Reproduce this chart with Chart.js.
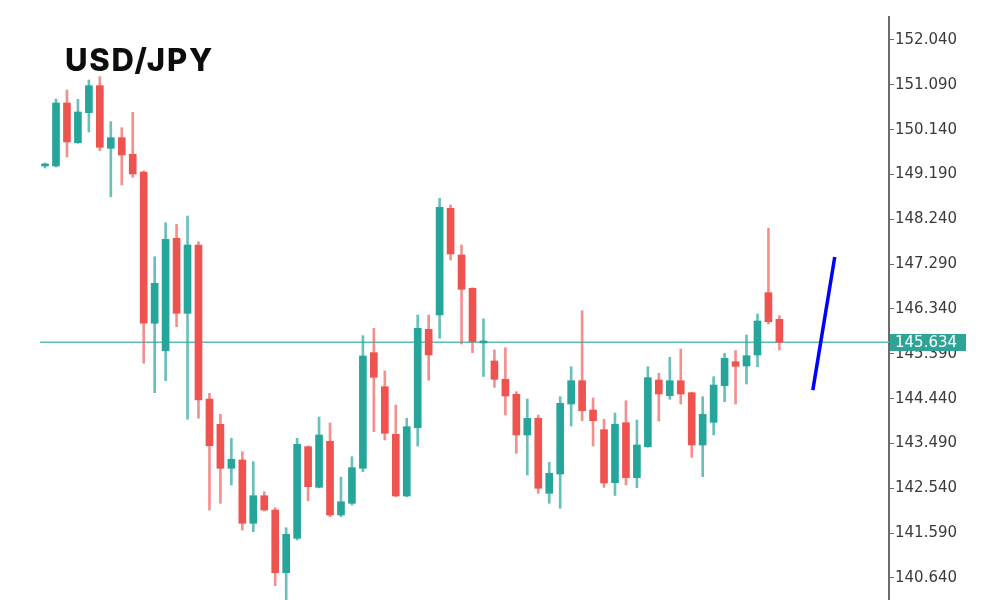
<!DOCTYPE html>
<html>
<head>
<meta charset="utf-8">
<script src="https://cdn.jsdelivr.net/npm/chart.js@4.4.0/dist/chart.umd.min.js"></script>
<style>
  body { margin: 0; background: #fff; }
  #wrap { position: relative; width: 1000px; height: 600px; }
  #pair { position: absolute; left: 65px; top: 41px; font: 800 31px Inter, "Open Sans", sans-serif; color: #0d0d0d; letter-spacing: 1.8px; }
</style>
</head>
<body>
<div id="wrap">
  <canvas id="fx"></canvas>
  <div id="pair">USD/JPY</div>
</div>
<script>

//candles, oldest first
var opens = [149.370, 149.370, 150.705, 149.864, 150.499, 151.072, 149.745, 149.970, 149.618, 149.243,
  146.037, 145.456, 147.838, 146.248, 147.696, 144.432, 143.896, 142.964, 143.140, 141.798,
  142.383, 142.080, 140.751, 141.481, 143.422, 142.561, 143.536, 141.974, 142.222, 142.964,
  145.414, 144.693, 143.684, 142.377, 143.824, 145.909, 146.212, 148.474, 147.484, 146.778,
  145.620, 145.238, 144.850, 144.532, 143.670, 144.023, 142.434, 142.843, 144.326, 144.820,
  144.199, 143.782, 142.659, 143.930, 142.765, 143.422, 144.835, 144.502, 144.820, 144.566,
  143.458, 143.939, 144.714, 145.223, 145.132, 145.365, 146.685, 146.121];
var highs = [149.434, 150.790, 150.980, 150.783, 151.192, 151.262, 150.309, 150.182, 150.508, 149.264,
  147.448, 148.168, 148.135, 148.310, 147.766, 144.553, 144.108, 143.600, 143.316, 143.104,
  142.468, 142.129, 141.705, 143.600, 143.440, 144.051, 143.924, 142.775, 143.210, 145.774,
  145.931, 145.026, 144.305, 144.023, 146.212, 146.212, 148.685, 148.543, 147.696, 146.790,
  146.132, 145.471, 145.520, 144.587, 144.432, 144.093, 143.091, 144.481, 145.117, 146.304,
  144.454, 144.004, 144.136, 144.396, 143.987, 145.117, 144.977, 145.316, 145.492, 144.580,
  144.481, 144.905, 145.401, 145.460, 145.789, 146.234, 148.050, 146.198];
var lows = [149.328, 149.349, 149.561, 149.850, 150.090, 149.694, 148.719, 148.967, 149.130, 145.189,
  144.566, 144.820, 145.965, 144.002, 144.023, 142.080, 142.222, 142.610, 141.656, 141.620,
  142.060, 140.476, 140.150, 141.444, 142.277, 142.550, 141.938, 141.938, 142.186, 142.892,
  143.740, 143.564, 142.360, 142.360, 143.436, 144.829, 145.719, 147.378, 145.598, 145.414,
  144.909, 144.680, 144.093, 143.282, 142.822, 142.434, 142.222, 142.116, 143.860, 143.973,
  143.436, 142.557, 142.388, 142.610, 142.553, 143.410, 143.966, 144.426, 144.326, 143.197,
  142.786, 143.670, 144.375, 144.326, 144.750, 145.117, 146.022, 145.471];
var closes = [149.391, 150.705, 149.879, 150.514, 151.072, 149.766, 149.970, 149.603, 149.200, 146.037,
  146.884, 147.817, 146.248, 147.696, 144.411, 143.443, 142.964, 143.155, 141.798, 142.383,
  142.080, 140.751, 141.565, 143.472, 142.574, 143.670, 141.974, 142.256, 142.977, 145.344,
  144.892, 143.706, 142.377, 143.845, 145.931, 145.365, 148.495, 147.505, 146.757, 145.647,
  145.660, 144.850, 144.496, 143.670, 144.023, 142.540, 142.858, 144.341, 144.820, 144.184,
  143.973, 142.652, 143.898, 142.765, 143.458, 144.884, 144.538, 144.820, 144.538, 143.458,
  144.108, 144.729, 145.295, 145.125, 145.350, 146.085, 146.070, 145.634];

//price axis labels
var priceTicks = [152.040, 151.090, 150.140, 149.190, 148.240, 147.290, 146.340, 145.390, 144.440, 143.490, 142.540, 141.590, 140.640];
var lastPrice = 145.634;

//hand drawn trend stroke (bar index, price)
var trendX = [70.05, 72.05];
var trendY = [144.62, 147.44];

var upColor = "#26a69a";
var downColor = "#ef5350";

var wicks = [], bodies = [], wickColors = [], bodyColors = [];
for(var i = 0; i < opens.length; i++) {
  var up = closes[i] >= opens[i];
  wicks.push({x: i, y: [lows[i], highs[i]]});
  bodies.push({x: i, y: [Math.min(opens[i], closes[i]), Math.max(opens[i], closes[i])]});
  wickColors.push(up ? "rgba(38,166,154,0.7)" : "rgba(239,83,80,0.65)");
  bodyColors.push(up ? upColor : downColor);
};

var lastLine = [{x: -1, y: lastPrice}, {x: 80, y: lastPrice}];
var trend = trendX.map((x, n) => ({x: x, y: trendY[n]}));

//price box on the axis
var lastLabel = {
  id: "lastLabel",
  afterDraw: function(chart) {
    var ctx = chart.ctx;
    var yy = chart.scales.y.getPixelForValue(lastPrice);
    var left = chart.chartArea.right + 1;
    ctx.save();
    ctx.fillStyle = "#2ea396";
    ctx.fillRect(left, Math.round(yy) - 8, 76, 17);
    ctx.fillStyle = "#fff";
    ctx.font = "15px 'DejaVu Sans'";
    ctx.textBaseline = "middle";
    ctx.fillText(lastPrice.toFixed(3), left + 5, yy + 1);
    ctx.restore();
  }
};

new Chart(document.getElementById("fx"), {
  type: "bar",
  data: {
    datasets: [
      {type: "line", data: trend, borderColor: "#0000ff", borderWidth: 3.5, pointRadius: 0, order: 0},
      {data: bodies, backgroundColor: bodyColors, barThickness: 7, minBarLength: 2, grouped: false, order: 1},
      {data: wicks, backgroundColor: wickColors, barThickness: 2, grouped: false, order: 2},
      {type: "line", data: lastLine, borderColor: "#5dbdb2", borderWidth: 1.5, pointRadius: 0, order: 3}
    ]
  },
  options: {
    responsive: true,
    maintainAspectRatio: false,
    animation: false,
    layout: {padding: {left: 40, top: 17, right: 0, bottom: 0}},
    plugins: {legend: {display: false}, tooltip: {enabled: false}},
    scales: {
      x: {type: "linear", display: false, offset: false, min: -0.46, max: 77},
      y: {
        position: "right",
        min: 140.173,
        max: 152.527,
        afterBuildTicks: function(scale) {
          scale.ticks = priceTicks.map(v => ({value: v}));
        },
        afterFit: function(scale) {
          scale.width = 111;
          scale.paddingTop = 0;
          scale.paddingBottom = 0;
        },
        border: {display: true, color: "#6b6b6b", width: 2},
        grid: {drawOnChartArea: false, drawTicks: true, tickLength: 5, color: "#6b6b6b"},
        ticks: {
          padding: 1,
          color: "#3a3a3a",
          font: {family: "DejaVu Sans", size: 15},
          callback: function(v) { return Number(v).toFixed(3); }
        }
      }
    }
  },
  plugins: [lastLabel]
});
</script>
</body>
</html>
